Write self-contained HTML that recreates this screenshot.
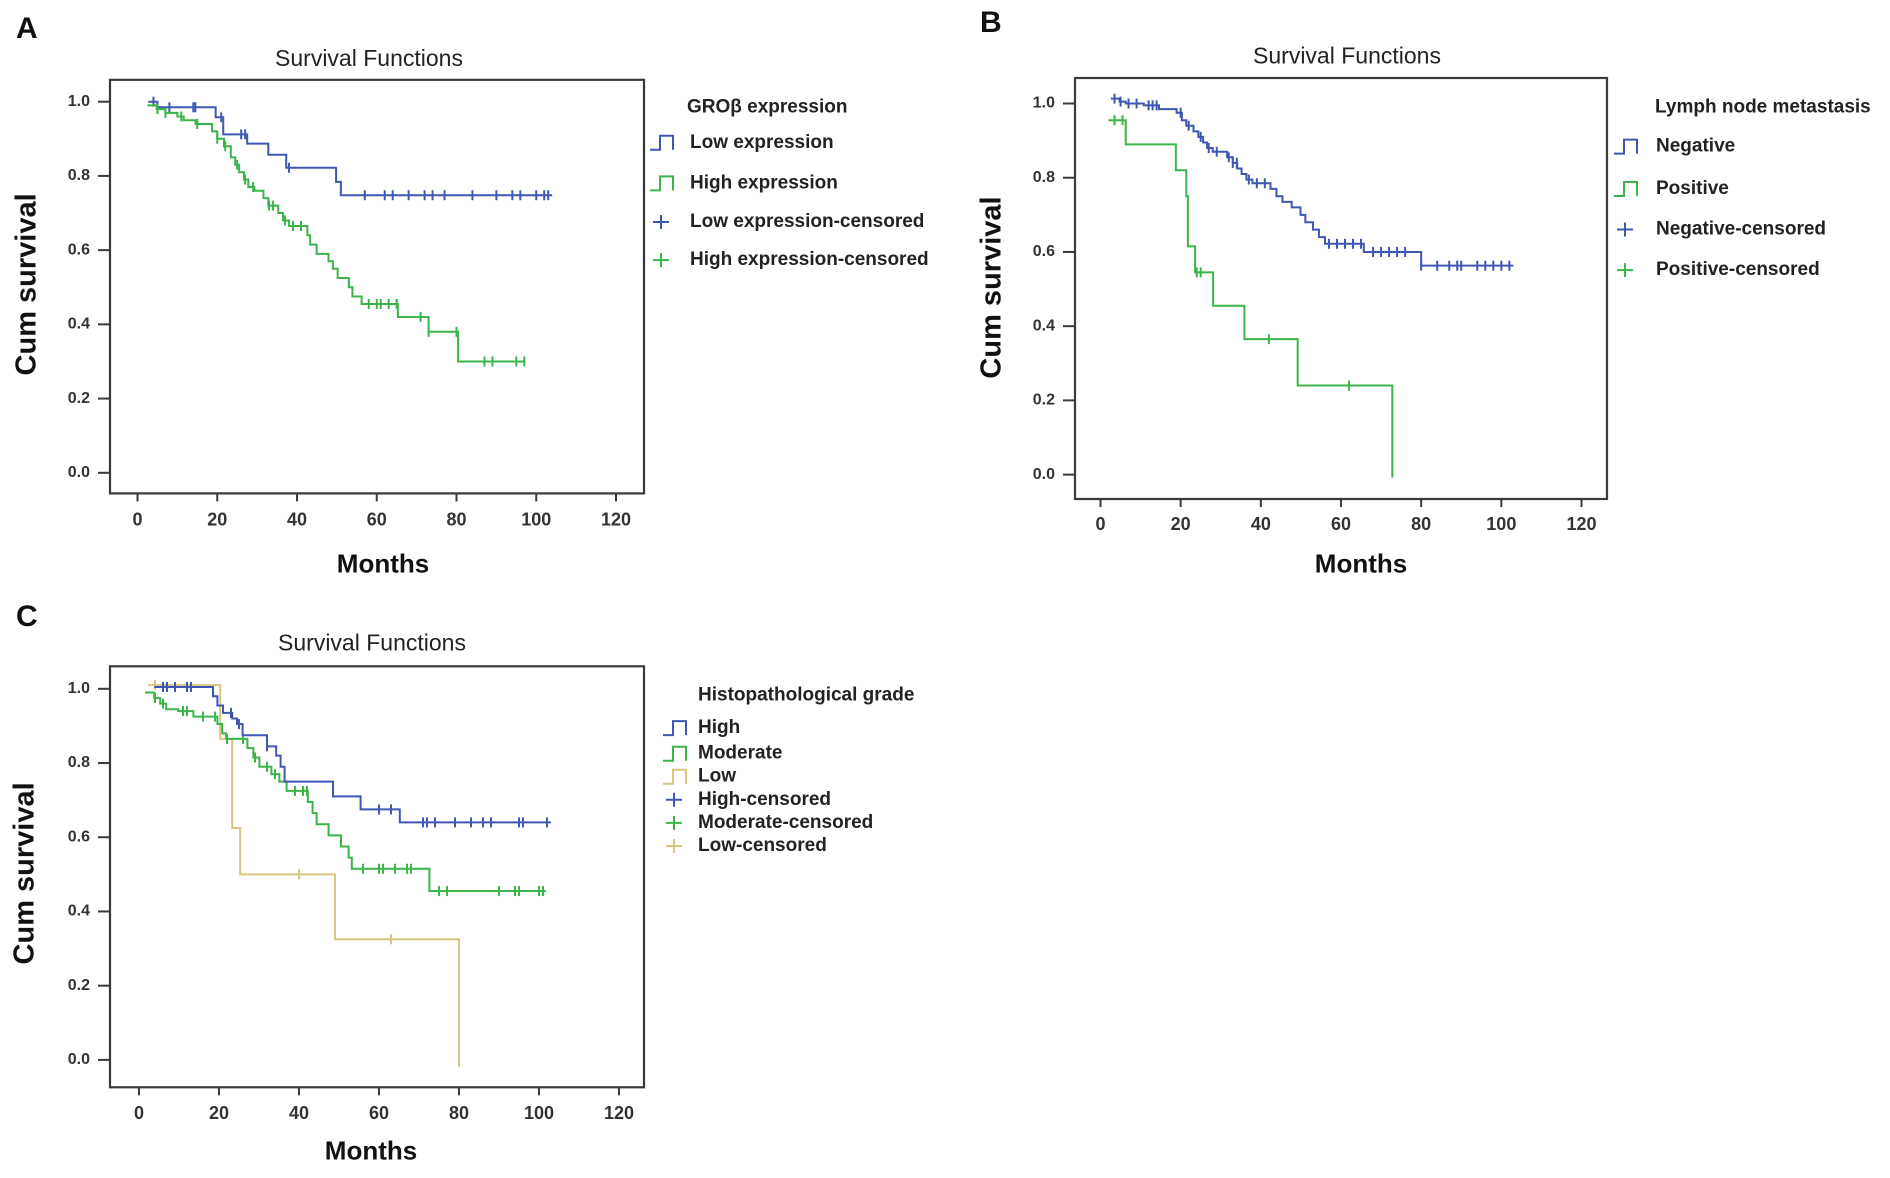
<!DOCTYPE html>
<html><head><meta charset="utf-8"><style>
html,body{margin:0;padding:0;background:#fff;overflow:hidden;}
svg{display:block;font-family:"Liberation Sans Narrow","Liberation Sans",sans-serif;}
</style></head><body>
<svg id="fig" width="1890" height="1178" viewBox="0 0 1890 1178"></svg>
<script>
// ---- Data (months, survival) ----
const xTicks=[0,20,40,60,80,100,120];
const yTicks=[0.0,0.2,0.4,0.6,0.8,1.0];
const yTickLabels=["0.0","0.2","0.4","0.6","0.8","1.0"];
// Panel A
const aLowT=[2.7,5,19.6,21.5,27.5,32.8,37.3,49.8,51,104];
const aLowS=[1.0,0.985,0.958,0.912,0.887,0.857,0.822,0.784,0.748,0.748];
const aLowC=[4,8,14,14.5,21,26,27,38,57,62,64,68,72,74,77,84,90,94,96,100,102,103];
const aHighT=[2.5,4.8,7,10,11.6,14.6,18.7,20,21.7,23.4,24.5,25.5,26.7,27.8,29.3,31.6,32.8,35.3,36.5,38,42.6,43.3,44.9,47.9,49,50.2,53,53.9,56.2,65.3,73,80.4,97];
const aHighS=[0.99,0.98,0.97,0.96,0.95,0.94,0.92,0.90,0.88,0.85,0.83,0.81,0.79,0.77,0.76,0.74,0.72,0.70,0.68,0.665,0.64,0.615,0.59,0.57,0.55,0.525,0.50,0.475,0.455,0.42,0.38,0.30,0.30];
const aHighC=[5,7,11,15,20,22,25,27,29,33,34,37,39,41,58,60,61,63,65,71,73,80,87,89,95,97];
// Panel B
const bNegT=[2.6,4.8,6.3,10.8,14.6,19,20.3,21.4,23.2,24.4,25.6,26.6,28,31.6,33,34.1,35.2,36.4,37.9,42.4,43.9,45.4,47.7,49.9,51.1,53,54.5,56,65.7,80,103];
const bNegS=[1.013,1.005,1.0,0.995,0.985,0.975,0.955,0.94,0.925,0.91,0.895,0.88,0.87,0.855,0.84,0.825,0.81,0.795,0.785,0.77,0.75,0.735,0.72,0.70,0.68,0.66,0.64,0.622,0.60,0.563,0.563];
const bNegC=[3.5,5,7,9,12,13,14,20,22,25,27,29,32,33,34,37,39,41,57,59,61,63,65,68,70,72,74,76,80,84,87,89,90,94,96,98,100,102];
const bPosT=[2,6.3,18.8,21.4,21.8,23.6,28.1,35.9,49.2,72.8,72.8];
const bPosS=[0.955,0.89,0.82,0.75,0.615,0.545,0.455,0.365,0.24,0.24,-0.008];
const bPosC=[3.5,5.5,24,25,42,62];
// Panel C
const cHighT=[3.8,18.5,19.6,21,23.3,24.5,25.9,32,34.3,35.4,36.4,48.5,55.4,65.2,103];
const cHighS=[1.005,0.98,0.955,0.935,0.92,0.905,0.875,0.845,0.82,0.79,0.75,0.71,0.675,0.64,0.64];
const cHighC=[6,7,9,12,13,23,25,32,60,63,71,72,74,79,83,86,88,95,96,102];
const cModT=[1.5,3.8,5.3,6.8,9.8,13.6,19.6,20.8,21.8,27.1,28.6,30.1,33.1,35.1,36.9,42.2,43.4,44.4,47.4,50.5,52.4,53.2,72.6,101.7];
const cModS=[0.99,0.975,0.96,0.945,0.94,0.925,0.905,0.88,0.865,0.84,0.815,0.79,0.77,0.75,0.725,0.695,0.665,0.635,0.605,0.575,0.545,0.515,0.455,0.455];
const cModC=[4,6,11,12,16,19,22,26,29,32,34,39,41,42,56,60,61,64,67,68,75,77,90,94,95,100,101];
const cLowT=[2.3,20.3,23.3,25.3,49,80,80];
const cLowS=[1.01,0.865,0.625,0.50,0.325,0.325,-0.018];
const cLowC=[4,40,63];

const BLUE="#3f57b3",GREEN="#3bb44a",TAN="#d6c67e";
const NS="http://www.w3.org/2000/svg";
const svg=document.getElementById("fig");
function mk(tag,attrs,parent){const e=document.createElementNS(NS,tag);for(const k in attrs)e.setAttribute(k,attrs[k]);(parent||svg).appendChild(e);return e;}
function txt(s,attrs,parent){const e=mk("text",attrs,parent);e.textContent=s;return e;}

function panel(cfg){
  const g=mk("g",{});
  
  
  const X=v=>cfg.xz+(cfg.x120-cfg.xz)*v/120;
  const Y=v=>cfg.yz-(cfg.yz-cfg.y1)*v;
  const f=cfg.frame;
  const fr=mk("rect",{x:f[0],y:f[1],width:f[2]-f[0],height:f[3]-f[1],fill:"none",stroke:"#3a3a3a","stroke-width":2.2},g);
  
  
  const lt=txt(cfg.letter,{x:cfg.letterPos[0],y:cfg.letterPos[1],"font-size":30,"font-weight":"bold","font-family":"Liberation Sans, sans-serif",fill:"#111","dominant-baseline":"middle"},g);
  
  
  const tt=txt("Survival Functions",{x:cfg.title[0],y:cfg.title[1],"font-size":23,fill:"#222","text-anchor":"middle","dominant-baseline":"middle"},g);
  
  
  const yl=txt("Cum survival",{x:0,y:0,"font-size":29,"font-weight":"bold","font-family":"Liberation Sans, sans-serif",fill:"#111","text-anchor":"middle","dominant-baseline":"middle",transform:`translate(${cfg.ylab[0]},${cfg.ylab[1]}) rotate(-90)`},g);
  
  
  const xl=txt("Months",{x:cfg.xlab[0],y:cfg.xlab[1],"font-size":26,"font-weight":"bold","font-family":"Liberation Sans, sans-serif",fill:"#111","text-anchor":"middle","dominant-baseline":"middle"},g);
  
  
  xTicks.forEach(t=>{
    const l=mk("line",{x1:X(t),x2:X(t),y1:f[3],y2:f[3]+8,stroke:"#3a3a3a","stroke-width":2},g);
    
    
    const s=txt(String(t),{x:X(t),y:cfg.xtickY,"font-size":18,"font-weight":"bold",fill:"#333","text-anchor":"middle","dominant-baseline":"middle"},g);
    
    
  });
  yTicks.forEach((t,i)=>{
    const l=mk("line",{x1:f[0]-12,x2:f[0],y1:Y(t),y2:Y(t),stroke:"#3a3a3a","stroke-width":2},g);
    
    
    const s=txt(yTickLabels[i],{x:f[0]-20,y:Y(t),"font-size":16,"font-weight":"bold",fill:"#333","text-anchor":"end","dominant-baseline":"middle"},g);
    
    
  });
  cfg.series.forEach(s=>{
    let d=`M${X(s.t[0])},${Y(s.s[0])}`;
    for(let i=1;i<s.t.length;i++){d+=` H${X(s.t[i])} V${Y(s.s[i])}`;}
    const p=mk("path",{d:d,fill:"none",stroke:s.color,"stroke-width":2},g);
    
    
    const survAt=tm=>{let v=s.s[0];for(let i=0;i<s.t.length;i++){if(s.t[i]<=tm)v=s.s[i];}return v;};
    s.c.forEach(tm=>{
      const v=survAt(tm);
      const c=mk("line",{x1:X(tm),x2:X(tm),y1:Y(v)-5,y2:Y(v)+5,stroke:s.color,"stroke-width":2},g);
      
      
    });
  });
  const lg=cfg.legend;
  const lt2=txt(lg.title,{x:lg.tx,y:lg.ty,"font-size":19,"font-weight":"bold",fill:"#222","dominant-baseline":"middle"},g);
  
  
  lg.entries.forEach((e,i)=>{
    const y=lg.ys[i],x=lg.ix,h=lg.h;
    let ic;
    if(e.type==="step"){ic=mk("path",{d:`M${x},${y+h} H${x+10} V${y-h} H${x+23} V${y+h}`,fill:"none",stroke:e.color,"stroke-width":2},g);}
    else{ic=mk("path",{d:`M${x+11},${y-h} V${y+h} M${x+3},${y} H${x+19}`,fill:"none",stroke:e.color,"stroke-width":2},g);}
    
    
    const lt3=txt(e.label,{x:lg.lx,y:y,"font-size":19,"font-weight":"bold",fill:"#222","dominant-baseline":"middle"},g);
    
    
  });
}

panel({name:"panel-a",letter:"A",letterPos:[16,30],xz:137.5,x120:616,yz:472.8,y1:101.7,frame:[110,79.8,644,493.4],
  title:[369,59.9],ylab:[28,284.4],xlab:[383,565.7],xtickY:520.8,
  series:[{key:"low-expression",t:aLowT,s:aLowS,c:aLowC,color:BLUE},{key:"high-expression",t:aHighT,s:aHighS,c:aHighC,color:GREEN}],
  legend:{title:"GROβ expression",tx:687,ty:107.3,ix:650,lx:690,h:7,ys:[142.8,183.4,222,260.1],
    entries:[{type:"step",color:BLUE,label:"Low expression"},{type:"step",color:GREEN,label:"High expression"},{type:"cens",color:BLUE,label:"Low expression-censored"},{type:"cens",color:GREEN,label:"High expression-censored"}]}});

panel({name:"panel-b",letter:"B",letterPos:[980,24],xz:1100.5,x120:1581.5,yz:474.6,y1:103.5,frame:[1075,78,1607,499],
  title:[1347,57.4],ylab:[993,287.5],xlab:[1361,565.7],xtickY:525.2,
  series:[{key:"negative",t:bNegT,s:bNegS,c:bNegC,color:BLUE},{key:"positive",t:bPosT,s:bPosS,c:bPosC,color:GREEN}],
  legend:{title:"Lymph node metastasis",tx:1655,ty:107.3,ix:1614,lx:1656,h:7,ys:[146.6,189,229.5,270.1],
    entries:[{type:"step",color:BLUE,label:"Negative"},{type:"step",color:GREEN,label:"Positive"},{type:"cens",color:BLUE,label:"Negative-censored"},{type:"cens",color:GREEN,label:"Positive-censored"}]}});

panel({name:"panel-c",letter:"C",letterPos:[16,618],xz:139,x120:619,yz:1059.9,y1:688.8,frame:[110,666.3,644,1087.3],
  title:[372,644.5],ylab:[26,873.4],xlab:[371,1152.8],xtickY:1114.2,
  series:[{key:"low-grade",t:cLowT,s:cLowS,c:cLowC,color:TAN},{key:"moderate-grade",t:cModT,s:cModS,c:cModC,color:GREEN},{key:"high-grade",t:cHighT,s:cHighS,c:cHighC,color:BLUE}],
  legend:{title:"Histopathological grade",tx:698,ty:695.7,ix:663,lx:698,h:7,ys:[728.1,753.7,776.7,799.8,822.9,846],
    entries:[{type:"step",color:BLUE,label:"High"},{type:"step",color:GREEN,label:"Moderate"},{type:"step",color:TAN,label:"Low"},{type:"cens",color:BLUE,label:"High-censored"},{type:"cens",color:GREEN,label:"Moderate-censored"},{type:"cens",color:TAN,label:"Low-censored"}]}});
</script>
</body></html>
